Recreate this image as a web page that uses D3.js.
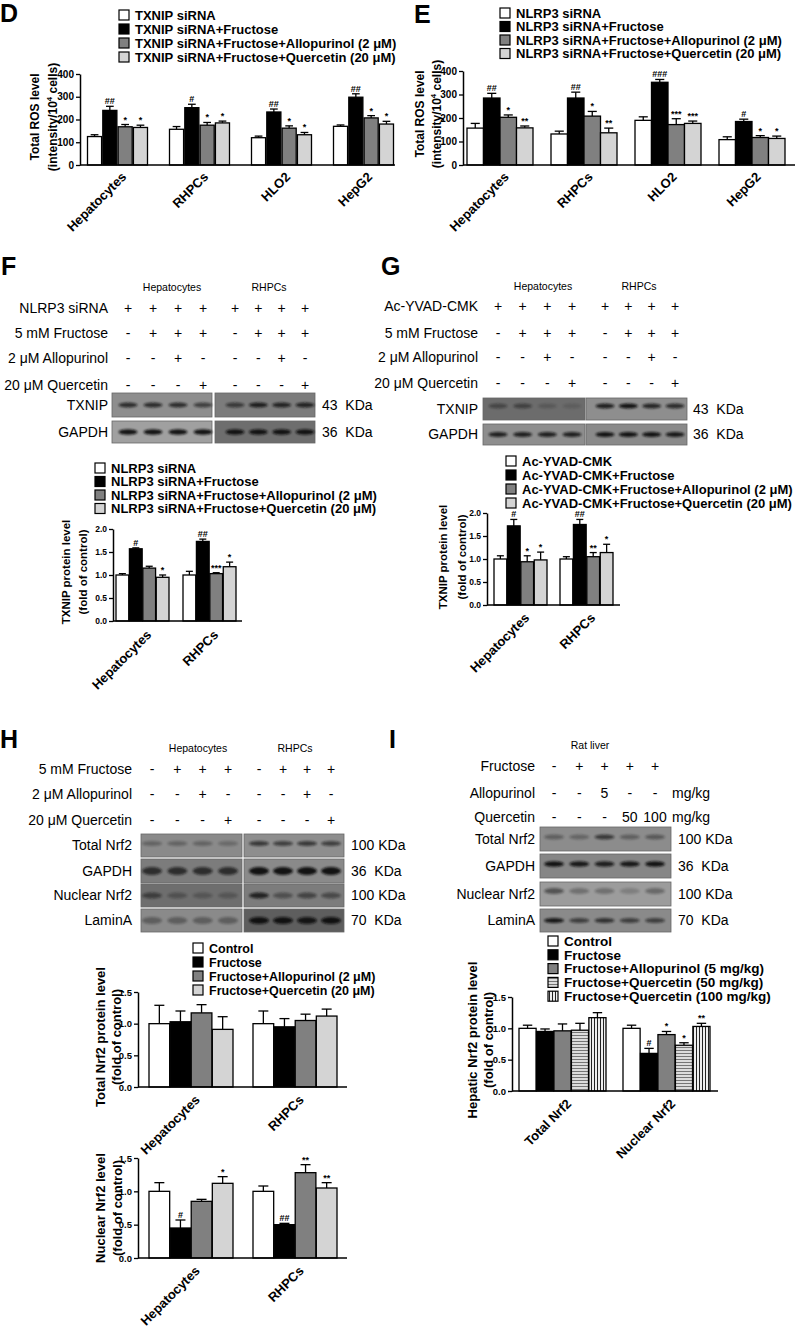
<!DOCTYPE html>
<html>
<head>
<meta charset="utf-8">
<script src="https://cdn.jsdelivr.net/npm/d3@7"></script>
<style>
body { margin: 0; background: #fff; }
text { font-family: "Liberation Sans", Arial, sans-serif; fill: #000; }
</style>
</head>
<body>
<svg id="fig" width="800" height="1338"></svg>
<script>
// ---------------- data ----------------
var cells4 = ["Hepatocytes", "RHPCs", "HLO2", "HepG2"];
var cells2 = ["Hepatocytes", "RHPCs"];
var nrfCats = ["Total Nrf2", "Nuclear Nrf2"];

// D: total ROS, TXNIP siRNA
var dLegend = ["TXNIP siRNA", "TXNIP siRNA+Fructose", "TXNIP siRNA+Fructose+Allopurinol (2 μM)", "TXNIP siRNA+Fructose+Quercetin (20 μM)"];
var dMean = [[125, 157, 120, 170], [240, 252, 233, 298], [168, 175, 162, 207], [165, 185, 133, 180]];
var dErr  = [[8, 12, 7, 6], [18, 15, 13, 15], [10, 12, 10, 10], [10, 8, 10, 12]];
var dSig  = [["", "", "", ""], ["##", "#", "##", "##"], ["*", "*", "*", "*"], ["*", "*", "*", "*"]];

// E: total ROS, NLRP3 siRNA
var eLegend = ["NLRP3 siRNA", "NLRP3 siRNA+Fructose", "NLRP3 siRNA+Fructose+Allopurinol (2 μM)", "NLRP3 siRNA+Fructose+Quercetin (20 μM)"];
var eMean = [[157, 132, 190, 108], [285, 285, 352, 185], [203, 208, 172, 117], [158, 137, 177, 113]];
var eErr  = [[20, 12, 15, 12], [20, 25, 12, 10], [10, 20, 25, 8], [8, 20, 10, 10]];
var eSig  = [["", "", "", ""], ["##", "##", "###", "#"], ["*", "*", "***", "*"], ["**", "**", "***", "*"]];

// F: TXNIP protein, NLRP3 siRNA
var fRows = ["NLRP3 siRNA", "5 mM Fructose", "2 μM Allopurinol", "20 μM Quercetin"];
var fSigns = [["+", "+", "+", "+", "+", "+", "+", "+"],
              ["-", "+", "+", "+", "-", "+", "+", "+"],
              ["-", "-", "+", "-", "-", "-", "+", "-"],
              ["-", "-", "-", "+", "-", "-", "-", "+"]];
var fTxnipBands = [0.75, 0.75, 0.75, 0.6, 0.6, 0.85, 0.8, 0.8];
var fGapdhBands = [0.95, 0.95, 0.95, 0.95, 0.95, 0.95, 0.95, 0.95];
var fLegend = eLegend;
var fMean = [[1.0, 1.0], [1.57, 1.73], [1.15, 1.03], [0.95, 1.18]];
var fErr  = [[0.03, 0.08], [0.02, 0.05], [0.04, 0.02], [0.05, 0.1]];
var fSig  = [["", ""], ["#", "##"], ["", "***"], ["*", "*"]];

// G: TXNIP protein, Ac-YVAD-CMK
var gRows = ["Ac-YVAD-CMK", "5 mM Fructose", "2 μM Allopurinol", "20 μM Quercetin"];
var gSigns = fSigns;
var gTxnipBands = [0.4, 0.45, 0.2, 0.15, 0.85, 0.95, 0.8, 0.75];
var gGapdhBands = [0.85, 0.85, 0.85, 0.85, 0.95, 0.95, 0.95, 0.9];
var gLegend = ["Ac-YVAD-CMK", "Ac-YVAD-CMK+Fructose", "Ac-YVAD-CMK+Fructose+Allopurinol (2 μM)", "Ac-YVAD-CMK+Fructose+Quercetin (20 μM)"];
var gMean = [[1.0, 1.0], [1.72, 1.75], [0.94, 1.05], [0.98, 1.14]];
var gErr  = [[0.07, 0.05], [0.14, 0.11], [0.13, 0.09], [0.17, 0.18]];
var gSig  = [["", ""], ["#", "##"], ["*", "**"], ["*", "*"]];

// H: Nrf2 in cells
var hRows = ["5 mM Fructose", "2 μM Allopurinol", "20 μM Quercetin"];
var hSigns = [["-", "+", "+", "+", "-", "+", "+", "+"],
              ["-", "-", "+", "-", "-", "-", "+", "-"],
              ["-", "-", "-", "+", "-", "-", "-", "+"]];
var hTotalBands   = [0.3, 0.3, 0.3, 0.25, 0.65, 0.6, 0.65, 0.6];
var hGapdhBands   = [0.7, 0.7, 0.7, 0.7, 0.95, 0.95, 0.95, 0.95];
var hNuclearBands = [0.5, 0.3, 0.25, 0.25, 0.8, 0.4, 0.5, 0.45];
var hLaminBands   = [0.35, 0.35, 0.35, 0.35, 0.95, 0.95, 0.9, 0.95];
var hLegend = ["Control", "Fructose", "Fructose+Allopurinol (2 μM)", "Fructose+Quercetin (20 μM)"];
var hTotalMean = [[1.0, 1.0], [1.03, 0.95], [1.17, 1.05], [0.91, 1.12]];
var hTotalErr  = [[0.29, 0.2], [0.17, 0.13], [0.13, 0.1], [0.2, 0.11]];
var hNucMean = [[1.0, 1.0], [0.45, 0.5], [0.85, 1.28], [1.12, 1.05]];
var hNucErr  = [[0.13, 0.08], [0.12, 0.02], [0.03, 0.12], [0.1, 0.08]];
var hNucSig  = [["", ""], ["#", "##"], ["", "**"], ["*", "**"]];

// I: Nrf2 in rat liver
var iRows = ["Fructose", "Allopurinol", "Quercetin"];
var iSigns = [["-", "+", "+", "+", "+"],
              ["-", "-", "5", "-", "-"],
              ["-", "-", "-", "50", "100"]];
var iUnits = ["", "mg/kg", "mg/kg"];
var iTotalBands   = [0.35, 0.3, 0.65, 0.35, 0.4];
var iGapdhBands   = [0.95, 0.9, 0.85, 0.9, 0.95];
var iNuclearBands = [0.5, 0.3, 0.3, 0.2, 0.35];
var iLaminBands   = [0.9, 0.6, 0.7, 0.6, 0.6];
var iLegend = ["Control", "Fructose", "Fructose+Allopurinol (5 mg/kg)", "Fructose+Quercetin (50 mg/kg)", "Fructose+Quercetin (100 mg/kg)"];
var iMean = [[1.0, 1.0], [0.95, 0.6], [0.96, 0.9], [0.97, 0.73], [1.17, 1.03]];
var iErr  = [[0.05, 0.05], [0.04, 0.08], [0.11, 0.05], [0.11, 0.04], [0.08, 0.05]];
var iSig  = [["", ""], ["", "#"], ["", "*"], ["", "*"], ["", "**"]];

var fills4 = ["#ffffff", "#000000", "#808080", "#d4d4d4"];
var fills5 = ["#ffffff", "#000000", "#808080", "url(#hstripe)", "url(#vstripe)"];

// ---------------- drawing ----------------
var svg = d3.select("#fig");
var defs = svg.append("defs");
defs.append("filter").attr("id", "blur").attr("x", "-50%").attr("y", "-100%").attr("width", "200%").attr("height", "300%")
    .append("feGaussianBlur").attr("stdDeviation", 1.1);
var ph = defs.append("pattern").attr("id", "hstripe").attr("patternUnits", "userSpaceOnUse").attr("width", 4).attr("height", 3);
ph.append("rect").attr("width", 4).attr("height", 3).attr("fill", "#dcdcdc");
ph.append("line").attr("x1", 0).attr("x2", 4).attr("y1", 0.5).attr("y2", 0.5).attr("stroke", "#6a6a6a").attr("stroke-width", 0.9);
var pv = defs.append("pattern").attr("id", "vstripe").attr("patternUnits", "userSpaceOnUse").attr("width", 3).attr("height", 4);
pv.append("rect").attr("width", 3).attr("height", 4).attr("fill", "#eeeeee");
pv.append("line").attr("x1", 0.5).attr("x2", 0.5).attr("y1", 0).attr("y2", 4).attr("stroke", "#222").attr("stroke-width", 1);

function letter(t, x, y) {
    svg.append("text").attr("x", x).attr("y", y).attr("font-size", 25).attr("font-weight", "bold").text(t);
}

function legend(c) {
    var g = svg.append("g");
    c.labels.forEach(function(t, i) {
        var yy = c.y + i * c.step;
        g.append("rect").attr("x", c.x).attr("y", yy - 5).attr("width", 10).attr("height", 10)
            .attr("fill", c.fills[i]).attr("stroke", "#000").attr("stroke-width", 1.2);
        g.append("text").attr("x", c.x + 16).attr("y", yy).attr("dy", "0.36em")
            .attr("font-size", c.size || 13).attr("font-weight", "bold").text(t);
    });
}

// lane positions from one scalePoint per blot segment
function laneXs(lanes, n) {
    var out = [];
    lanes.forEach(function(r) {
        var s = d3.scalePoint().domain(d3.range(n)).range(r);
        d3.range(n).forEach(function(k) { out.push(s(k)); });
    });
    return out;
}

function table(c) {
    var g = svg.append("g");
    var lx = laneXs(c.lanes, c.n);
    c.rows.forEach(function(name, r) {
        g.append("text").attr("x", c.labelX).attr("y", c.ys[r]).attr("dy", "0.35em")
            .attr("text-anchor", "end").attr("font-size", 14).text(name);
        c.signs[r].forEach(function(s, i) {
            g.append("text").attr("x", lx[i]).attr("y", c.ys[r]).attr("dy", "0.35em")
                .attr("text-anchor", "middle").attr("font-size", 14).text(s);
        });
        if (c.units && c.units[r]) {
            g.append("text").attr("x", c.unitX).attr("y", c.ys[r]).attr("dy", "0.35em")
                .attr("font-size", 14).text(c.units[r]);
        }
    });
    c.heads.forEach(function(h, i) {
        g.append("text").attr("x", c.headX[i]).attr("y", c.headY).attr("dy", "0.35em")
            .attr("text-anchor", "middle").attr("font-size", 10.5).text(h);
    });
}

function blot(c) {
    var g = svg.append("g");
    var lx = laneXs(c.lanes, c.n);
    c.rows.forEach(function(r) {
        c.segs.forEach(function(s, k) {
            g.append("rect").attr("x", s[0]).attr("y", r.y).attr("width", s[1] - s[0]).attr("height", r.h)
                .attr("fill", r.bg[k]).attr("stroke", "#666").attr("stroke-width", 0.8);
        });
        r.bands.forEach(function(v, i) {
            g.append("ellipse").attr("cx", lx[i]).attr("cy", r.y + r.h / 2 + (r.off || 0))
                .attr("rx", c.bandW / 2).attr("ry", r.ry || 3)
                .attr("fill", "#111").attr("opacity", v).attr("filter", "url(#blur)");
        });
        g.append("text").attr("x", c.labelX).attr("y", r.y + r.h / 2).attr("dy", "0.35em")
            .attr("text-anchor", "end").attr("font-size", 14).text(r.name);
        g.append("text").attr("x", c.kdaX).attr("y", r.y + r.h / 2).attr("dy", "0.35em")
            .attr("font-size", 14).style("white-space", "pre").text(r.kda);
    });
}

function barChart(c) {
    var g = svg.append("g");
    var y = d3.scaleLinear().domain([0, c.yMax]).range([c.y0, c.y1]);
    var x = d3.scalePoint().domain(c.cats).range(c.centers);
    var inner = d3.scaleBand().domain(d3.range(c.mean.length))
        .range([-c.groupW / 2, c.groupW / 2]).paddingInner(c.gap || 0);
    var bw = inner.bandwidth();

    c.mean.forEach(function(series, s) {
        series.forEach(function(v, i) {
            var bx = x(c.cats[i]) + inner(s);
            var cx = bx + bw / 2;
            var etop = y(v + c.err[s][i]);
            var cap = Math.min(bw * 0.55, 10);
            g.append("line").attr("x1", cx).attr("x2", cx).attr("y1", y(v)).attr("y2", etop)
                .attr("stroke", "#000").attr("stroke-width", 1.3);
            g.append("line").attr("x1", cx - cap / 2).attr("x2", cx + cap / 2).attr("y1", etop).attr("y2", etop)
                .attr("stroke", "#000").attr("stroke-width", 1.3);
            g.append("rect").attr("x", bx).attr("y", y(v)).attr("width", bw).attr("height", y(0) - y(v))
                .attr("fill", c.fills[s]).attr("stroke", "#000").attr("stroke-width", 1.3);
            if (c.sig && c.sig[s][i]) {
                g.append("text").attr("x", cx).attr("y", etop - 2).attr("text-anchor", "middle")
                    .attr("font-size", 9).attr("font-weight", "bold").text(c.sig[s][i]);
            }
        });
    });

    var axis = d3.axisLeft(y).tickValues(c.ticks).tickFormat(c.fmt).tickSize(4).tickSizeOuter(0).tickPadding(2);
    var ag = g.append("g").attr("transform", "translate(" + c.axisX[0] + ",0)").call(axis);
    ag.select(".domain").attr("stroke-width", 1.5);
    ag.selectAll(".tick line").attr("stroke-width", 1.3);
    ag.selectAll(".tick text").attr("font-size", c.tickFont).attr("font-weight", "bold")
        .attr("font-family", "Liberation Sans, Arial, sans-serif");
    g.append("line").attr("x1", c.axisX[0]).attr("x2", c.axisX[1]).attr("y1", y(0)).attr("y2", y(0))
        .attr("stroke", "#000").attr("stroke-width", 1.5);

    // category labels at 45 degrees
    c.cats.forEach(function(t) {
        g.append("text").attr("transform", "translate(" + (x(t) + 3) + "," + c.xLabelY + ") rotate(-45)")
            .attr("text-anchor", "end").attr("dy", "0.72em")
            .attr("font-size", c.xLabelFont || 13).attr("font-weight", "bold").text(t);
    });

    // y title, "^" marks a superscript
    c.yLabel.forEach(function(line, i) {
        var t = g.append("text").attr("transform", "translate(" + c.yLabelX[i] + "," + c.yLabelY + ") rotate(-90)")
            .attr("text-anchor", "middle").attr("dy", "0.35em")
            .attr("font-size", c.yLabelFont).attr("font-weight", "bold");
        line.split("^").forEach(function(part, k) {
            var ts = t.append("tspan").text(part);
            if (k % 2 == 1) ts.attr("font-size", c.yLabelFont * 0.65).attr("dy", -5);
            else if (k > 0) ts.attr("dy", 5);
        });
    });
}

// ---------- D ----------
letter("D", 0, 22);
legend({x: 119, y: 15, step: 14, labels: dLegend, fills: fills4});
barChart({cats: cells4, mean: dMean, err: dErr, sig: dSig, fills: fills4,
    yMax: 400, ticks: [0, 100, 200, 300, 400], fmt: d3.format("d"), y0: 165, y1: 74,
    axisX: [80, 395], centers: [117.5, 363.5], groupW: 60, gap: 0.08, tickFont: 10,
    yLabel: ["Total ROS level", "(intensity/10^4^ cells)"], yLabelX: [35, 53], yLabelY: 117, yLabelFont: 12,
    xLabelY: 171});

// ---------- E ----------
letter("E", 414, 23);
legend({x: 500, y: 13, step: 13.5, labels: eLegend, fills: fills4});
barChart({cats: cells4, mean: eMean, err: eErr, sig: eSig, fills: fills4,
    yMax: 400, ticks: [0, 100, 200, 300, 400], fmt: d3.format("d"), y0: 165, y1: 71,
    axisX: [463, 795], centers: [500, 752], groupW: 66, gap: 0, tickFont: 10,
    yLabel: ["Total ROS level", "(intensity/10^4^ cells)"], yLabelX: [420, 437], yLabelY: 114, yLabelFont: 12,
    xLabelY: 171});

// ---------- F ----------
letter("F", 1, 275);
table({rows: fRows, signs: fSigns, ys: [308, 333, 358, 385], labelX: 108, n: 4,
    lanes: [[128, 203], [235, 305]], heads: cells2, headX: [172, 269], headY: 287});
blot({n: 4, lanes: [[128, 203], [235, 305]], segs: [[112, 212], [215, 315]], bandW: 19, labelX: 108, kdaX: 322,
    rows: [{name: "TXNIP", y: 393, h: 24, kda: "43  KDa", bands: fTxnipBands, bg: ["#8e8e8e", "#7c7c7c"], ry: 2.6},
           {name: "GAPDH", y: 421, h: 22, kda: "36  KDa", bands: fGapdhBands, bg: ["#a0a0a0", "#6e6e6e"], ry: 2.8}]});
legend({x: 95, y: 468, step: 13.5, labels: fLegend, fills: fills4});
barChart({cats: cells2, mean: fMean, err: fErr, sig: fSig, fills: fills4,
    yMax: 2, ticks: [0, 0.5, 1, 1.5, 2], fmt: d3.format(".1f"), y0: 621, y1: 529,
    axisX: [113, 242], centers: [142.5, 209.5], groupW: 53, gap: 0.05, tickFont: 8.5,
    yLabel: ["TXNIP protein level", "(fold of control)"], yLabelX: [66, 83], yLabelY: 572, yLabelFont: 11.5,
    xLabelY: 629});

// ---------- G ----------
letter("G", 381, 275);
table({rows: gRows, signs: gSigns, ys: [306, 333, 357, 383], labelX: 478, n: 4,
    lanes: [[498, 572], [605, 675]], heads: cells2, headX: [543, 639], headY: 286});
blot({n: 4, lanes: [[498, 572], [605, 675]], segs: [[483, 585], [586, 687]], bandW: 19, labelX: 478, kdaX: 693,
    rows: [{name: "TXNIP", y: 398, h: 22, kda: "43  KDa", bands: gTxnipBands, bg: ["#6c6c6c", "#8e8e8e"], ry: 2.6, off: -3},
           {name: "GAPDH", y: 424, h: 21, kda: "36  KDa", bands: gGapdhBands, bg: ["#8e8e8e", "#8a8a8a"], ry: 2.6}]});
legend({x: 506, y: 461, step: 14, labels: gLegend, fills: fills4});
barChart({cats: cells2, mean: gMean, err: gErr, sig: gSig, fills: fills4,
    yMax: 2, ticks: [0, 0.5, 1, 1.5, 2], fmt: d3.format(".1f"), y0: 605, y1: 513,
    axisX: [487, 620], centers: [520.5, 586.5], groupW: 53, gap: 0.05, tickFont: 8.5,
    yLabel: ["TXNIP protein level", "(fold of control)"], yLabelX: [443, 462], yLabelY: 557, yLabelFont: 11.5,
    xLabelY: 612});

// ---------- H ----------
letter("H", 0, 748);
table({rows: hRows, signs: hSigns, ys: [769, 794, 820], labelX: 132, n: 4,
    lanes: [[152, 228], [259, 331]], heads: cells2, headX: [198, 295], headY: 748});
blot({n: 4, lanes: [[152, 228], [259, 331]], segs: [[141, 242], [244, 344]], bandW: 20, labelX: 132, kdaX: 351,
    rows: [{name: "Total Nrf2", y: 834, h: 23, kda: "100 KDa", bands: hTotalBands, bg: ["#8a8a8a", "#8e8e8e"], ry: 2.5, off: -2},
           {name: "GAPDH", y: 859, h: 24, kda: "36  KDa", bands: hGapdhBands, bg: ["#7c7c7c", "#8a8a8a"], ry: 4},
           {name: "Nuclear Nrf2", y: 884, h: 23, kda: "100 KDa", bands: hNuclearBands, bg: ["#6e6e6e", "#7c7c7c"], ry: 3},
           {name: "LaminA", y: 909, h: 23, kda: "70  KDa", bands: hLaminBands, bg: ["#8a8a8a", "#5e5e5e"], ry: 3.5}]});
legend({x: 193, y: 948, step: 14, labels: hLegend, fills: fills4, size: 12.5});
barChart({cats: cells2, mean: hTotalMean, err: hTotalErr, fills: fills4,
    yMax: 1.5, ticks: [0, 0.5, 1, 1.5], fmt: d3.format(".1f"), y0: 1087, y1: 992,
    axisX: [138, 347], centers: [191, 295], groupW: 84, gap: 0.02, tickFont: 9.5,
    yLabel: ["Total Nrf2 protein level", "(fold of control)"], yLabelX: [100, 116], yLabelY: 1037, yLabelFont: 13,
    xLabelY: 1094});
barChart({cats: cells2, mean: hNucMean, err: hNucErr, sig: hNucSig, fills: fills4,
    yMax: 1.5, ticks: [0, 0.5, 1, 1.5], fmt: d3.format(".1f"), y0: 1258, y1: 1158,
    axisX: [138, 347], centers: [191, 295], groupW: 84, gap: 0.02, tickFont: 9.5,
    yLabel: ["Nuclear Nrf2 level", "(fold of control)"], yLabelX: [100, 117], yLabelY: 1208, yLabelFont: 13,
    xLabelY: 1265});

// ---------- I ----------
letter("I", 389, 748);
table({rows: iRows, signs: iSigns, units: iUnits, unitX: 672, ys: [766, 793, 817], labelX: 535, n: 5,
    lanes: [[554, 655]], heads: ["Rat liver"], headX: [590], headY: 745});
blot({n: 5, lanes: [[554, 655]], segs: [[540, 671]], bandW: 20, labelX: 535, kdaX: 678,
    rows: [{name: "Total Nrf2", y: 827, h: 24, kda: "100 KDa", bands: iTotalBands, bg: ["#8c8c8c"], ry: 2.5, off: -2},
           {name: "GAPDH", y: 854, h: 24, kda: "36  KDa", bands: iGapdhBands, bg: ["#868686"], ry: 2.8, off: -2},
           {name: "Nuclear Nrf2", y: 882, h: 24, kda: "100 KDa", bands: iNuclearBands, bg: ["#9c9c9c"], ry: 3, off: -3},
           {name: "LaminA", y: 909, h: 23, kda: "70  KDa", bands: iLaminBands, bg: ["#8a8a8a"], ry: 2.5}]});
legend({x: 548, y: 941, step: 13.8, labels: iLegend, fills: fills5, size: 13.5});
barChart({cats: nrfCats, mean: iMean, err: iErr, sig: iSig, fills: fills5,
    yMax: 1.5, ticks: [0, 0.5, 1, 1.5], fmt: d3.format(".1f"), y0: 1091, y1: 997,
    axisX: [512, 718], centers: [562.5, 666.5], groupW: 87, gap: 0.02, tickFont: 9.5,
    yLabel: ["Hepatic Nrf2 protein level", "(fold of control)"], yLabelX: [472, 488], yLabelY: 1040, yLabelFont: 13,
    xLabelY: 1098});
</script>
</body>
</html>
